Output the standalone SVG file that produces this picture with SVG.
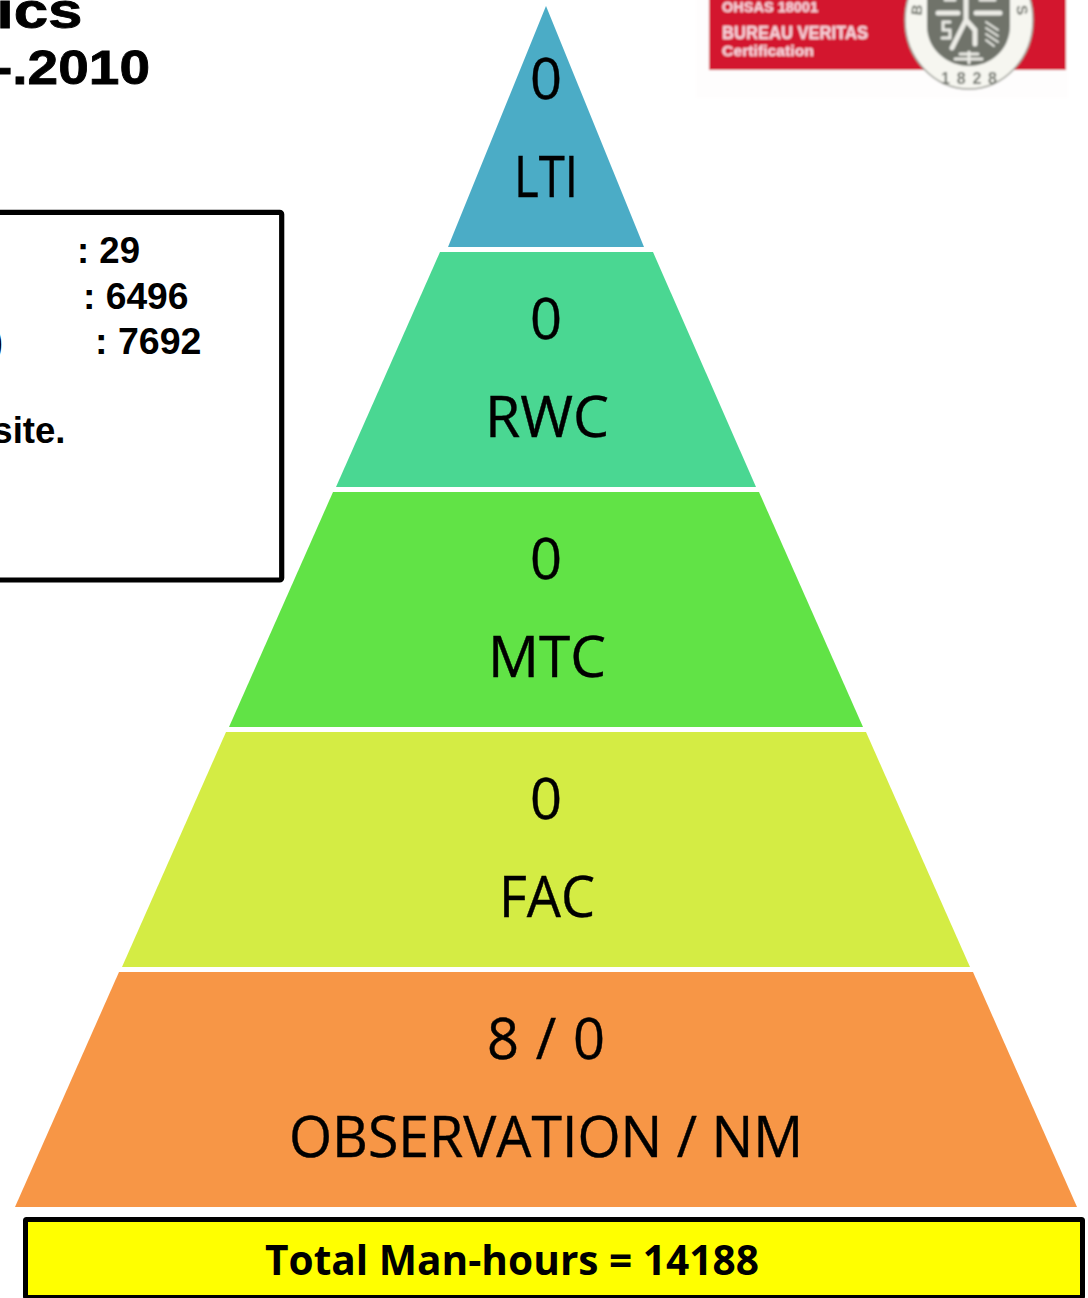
<svg xmlns="http://www.w3.org/2000/svg" width="1088" height="1298" viewBox="0 0 1088 1298">
<style>
.a{font-family:"Liberation Sans",Arial,sans-serif;font-weight:700;fill:#000}
.h{stroke:#000;stroke-width:.8}
.p{font-family:"Open Sans","Noto Sans",sans-serif;font-size:56px;fill:#000;stroke:#000;stroke-width:.4;text-anchor:middle}
.l{font-family:"Liberation Sans",Arial,sans-serif;font-weight:700;fill:#f6d3da;stroke:#f6d3da;stroke-width:.4}
.s{font-family:"Liberation Sans",Arial,sans-serif;font-weight:700;fill:#6f736b}
.w{fill:none;stroke:#ecece6;stroke-linecap:round}
</style>
<defs><filter id="b" x="-5%" y="-5%" width="110%" height="110%"><feGaussianBlur stdDeviation="0.9"/></filter></defs>
<rect width="1088" height="1298" fill="#fff"/>
<g id="title">
<text class="a h" x="82.5" y="27.5" font-size="50" text-anchor="end" textLength="86" lengthAdjust="spacingAndGlyphs">ics</text>
<text class="a h" x="150" y="84" font-size="49" text-anchor="end" textLength="156" lengthAdjust="spacingAndGlyphs">-.2010</text>
</g>
<g id="logo" filter="url(#b)">
<rect x="696" y="-5" width="372" height="103" fill="#fefdfd"/>
<rect x="709" y="-5" width="357" height="75" fill="#d3122f"/>
<ellipse cx="969" cy="20" rx="64" ry="69" fill="#f6f6f0" stroke="#9a9c94" stroke-width="1.5"/>
<path d="M927 -5H1010V26C1010 50 990 66 969 66C948 66 927 50 927 26Z" fill="#6f736b"/>
<path class="w" stroke-width="5" d="M966 -2L966 20L952 48M966 20L975 30L975 44M938 13H958M976 13H1000"/>
<path class="w" stroke-width="3" d="M945 0H955M980 0H995M950 22H943V30H950V38H942"/>
<path class="w" stroke-width="2" d="M986 22L998 30M986 28L998 36M986 34L998 42M986 40L994 46"/>
<path class="w" stroke-width="3" d="M955 59H982M969 52V63M960 54H978"/>
<text class="l" x="722" y="12" font-size="14.5" textLength="96" lengthAdjust="spacingAndGlyphs">OHSAS 18001</text>
<text class="l" x="722" y="39" font-size="18" textLength="146" lengthAdjust="spacingAndGlyphs">BUREAU VERITAS</text>
<text class="l" x="722" y="56" font-size="15" textLength="92" lengthAdjust="spacingAndGlyphs">Certification</text>
<text class="s" x="917" y="15" font-size="15" text-anchor="middle" transform="rotate(-85 917 10)">B</text>
<text class="s" x="1022" y="15" font-size="15" text-anchor="middle" transform="rotate(85 1022 10)">S</text>
<text class="s" x="969" y="84" font-size="16" text-anchor="middle" textLength="56" lengthAdjust="spacing">1828</text>
</g>
<g id="summary">
<rect x="-10" y="212.3" width="291.7" height="367.7" rx="2" fill="#fff" stroke="#000" stroke-width="5.2"/>
<text class="a" x="77" y="263" font-size="36.6" textLength="63" lengthAdjust="spacingAndGlyphs">: 29</text>
<text class="a" x="83" y="309" font-size="36.6" textLength="105.5" lengthAdjust="spacingAndGlyphs">: 6496</text>
<text class="a" x="3" y="354" font-size="36.6" text-anchor="end">)</text>
<text class="a" x="95" y="354" font-size="36.6" textLength="106.5" lengthAdjust="spacingAndGlyphs">: 7692</text>
<text class="a" x="65.5" y="443" font-size="36.6" text-anchor="end">site.</text>
</g>
<g id="lti"><path d="M546 6L644 247H448Z" fill="#4bacc6"/>
<text class="p" x="546" y="99">0</text><text class="p" x="546" y="197" textLength="64" lengthAdjust="spacingAndGlyphs">LTI</text></g>
<g id="rwc"><path d="M440 252H653L756 487H336Z" fill="#4ad792"/>
<text class="p" x="546" y="339">0</text><text class="p" x="547" y="437" textLength="124" lengthAdjust="spacingAndGlyphs">RWC</text></g>
<g id="mtc"><path d="M333 492H759L863 727H229Z" fill="#61e346"/>
<text class="p" x="546" y="579">0</text><text class="p" x="547" y="677" textLength="118" lengthAdjust="spacingAndGlyphs">MTC</text></g>
<g id="fac"><path d="M226 732H866L970 967H122Z" fill="#d4ec44"/>
<text class="p" x="546" y="819">0</text><text class="p" x="547" y="917" textLength="96" lengthAdjust="spacingAndGlyphs">FAC</text></g>
<g id="observation"><path d="M119 972H973L1077 1207H15Z" fill="#f79646"/>
<text class="p" x="546" y="1059" textLength="118" lengthAdjust="spacing">8 / 0</text><text class="p" x="546" y="1157" textLength="514" lengthAdjust="spacingAndGlyphs">OBSERVATION / NM</text></g>
<g id="total"><rect x="25.5" y="1219.5" width="1057" height="78" rx="1" fill="#ff0" stroke="#000" stroke-width="5"/>
<text x="512" y="1275" font-family="'Open Sans','Noto Sans',sans-serif" font-weight="700" font-size="41" text-anchor="middle" textLength="494" lengthAdjust="spacingAndGlyphs">Total Man-hours = 14188</text></g>
<g id="connectors"></g>
</svg>
